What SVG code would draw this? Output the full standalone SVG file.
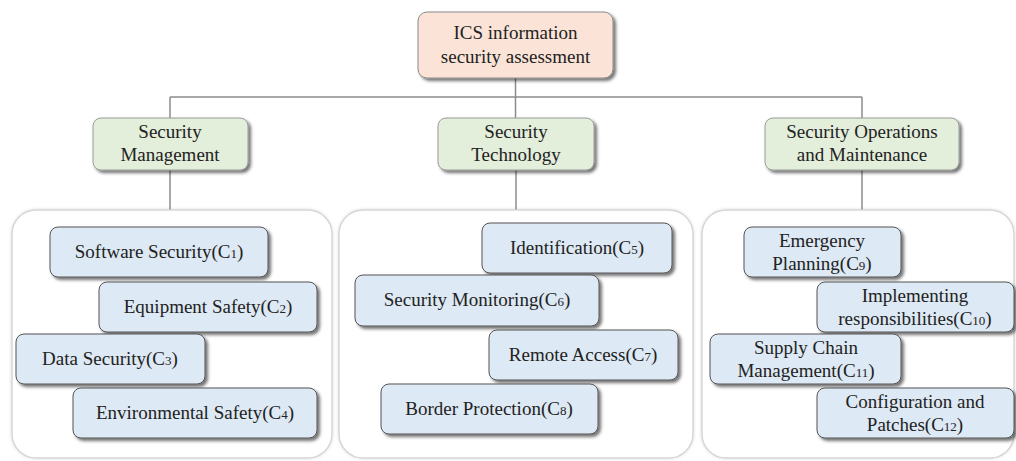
<svg xmlns="http://www.w3.org/2000/svg" width="1016" height="461" viewBox="0 0 1016 461" font-family="'Liberation Serif', 'Times New Roman', Times, serif">
<defs>
<filter id="sh" x="-10%" y="-20%" width="130%" height="150%">
<feDropShadow dx="2.5" dy="2.5" stdDeviation="1.5" flood-color="#000" flood-opacity="0.55"/>
</filter>
<filter id="csh" x="-5%" y="-5%" width="110%" height="110%">
<feDropShadow dx="0" dy="0" stdDeviation="1.5" flood-color="#000" flood-opacity="0.15"/>
</filter>
</defs>
<style>
text{font-family:'Liberation Serif','Times New Roman',Times,serif;font-size:19px;fill:#222;text-anchor:middle}
.top{fill:#fbe4d7;stroke:#8a8a8a;stroke-width:1}
.mid{fill:#e3eedb;stroke:#9a9a9a;stroke-width:1}
.leaf{fill:#dde9f4;stroke:#555;stroke-width:1}
.cont{fill:#fff;stroke:#d6d6d6;stroke-width:1.5}
.ln{stroke:#8c8c8c;stroke-width:1.5;fill:none}
.s{font-size:13px}
</style>
<g id="connectors">
<path class="ln" d="M515.5 78V118M170 97H862M170 97V118M862 97V118M170 170V211M516 170V211M862 170V211"/>
</g>
<g id="containers">
<rect class="cont" filter="url(#csh)" x="12" y="210" width="320" height="248" rx="24"/>
<rect class="cont" filter="url(#csh)" x="339" y="210" width="354" height="248" rx="24"/>
<rect class="cont" filter="url(#csh)" x="702" y="210" width="312" height="248" rx="24"/>
</g>
<g id="root">
<rect class="top" filter="url(#sh)" x="418" y="12" width="195" height="66" rx="9"/>
<text x="515.5" y="39">ICS information</text>
<text x="515.5" y="63">security assessment</text>
</g>
<g id="mgmt">
<rect class="mid" filter="url(#sh)" x="93" y="118" width="155" height="52" rx="8"/>
<text x="170" y="138">Security</text>
<text x="170" y="161">Management</text>
</g>
<g id="tech">
<rect class="mid" filter="url(#sh)" x="438" y="118" width="156" height="52" rx="8"/>
<text x="516" y="138">Security</text>
<text x="516" y="161">Technology</text>
</g>
<g id="ops">
<rect class="mid" filter="url(#sh)" x="765" y="118" width="194" height="52" rx="8"/>
<text x="862" y="138">Security Operations</text>
<text x="862" y="161">and Maintenance</text>
</g>
<g id="c1">
<rect class="leaf" filter="url(#sh)" x="50" y="227" width="218" height="50" rx="8"/>
<text x="159" y="258">Software Security(C<tspan class="s">1</tspan>)</text>
</g>
<g id="c2">
<rect class="leaf" filter="url(#sh)" x="99" y="282" width="218" height="50" rx="8"/>
<text x="208" y="313">Equipment Safety(C<tspan class="s">2</tspan>)</text>
</g>
<g id="c3">
<rect class="leaf" filter="url(#sh)" x="16" y="334" width="189" height="50" rx="8"/>
<text x="110" y="365">Data Security(C<tspan class="s">3</tspan>)</text>
</g>
<g id="c4">
<rect class="leaf" filter="url(#sh)" x="73" y="388" width="244" height="50" rx="8"/>
<text x="195" y="419">Environmental Safety(C<tspan class="s">4</tspan>)</text>
</g>
<g id="c5">
<rect class="leaf" filter="url(#sh)" x="482" y="223" width="190" height="50" rx="8"/>
<text x="577" y="254">Identification(C<tspan class="s">5</tspan>)</text>
</g>
<g id="c6">
<rect class="leaf" filter="url(#sh)" x="355" y="275" width="244" height="51" rx="8"/>
<text x="477" y="306">Security Monitoring(C<tspan class="s">6</tspan>)</text>
</g>
<g id="c7">
<rect class="leaf" filter="url(#sh)" x="489" y="330" width="189" height="50" rx="8"/>
<text x="583" y="361">Remote Access(C<tspan class="s">7</tspan>)</text>
</g>
<g id="c8">
<rect class="leaf" filter="url(#sh)" x="381" y="384" width="217" height="50" rx="8"/>
<text x="489" y="415">Border Protection(C<tspan class="s">8</tspan>)</text>
</g>
<g id="c9">
<rect class="leaf" filter="url(#sh)" x="744" y="227" width="157" height="50" rx="8"/>
<text x="822" y="247">Emergency</text>
<text x="822" y="270">Planning(C<tspan class="s">9</tspan>)</text>
</g>
<g id="c10">
<rect class="leaf" filter="url(#sh)" x="817" y="282" width="197" height="50" rx="8"/>
<text x="915" y="302">Implementing</text>
<text x="915" y="325">responsibilities(C<tspan class="s">10</tspan>)</text>
</g>
<g id="c11">
<rect class="leaf" filter="url(#sh)" x="710" y="334" width="191" height="50" rx="8"/>
<text x="806" y="354">Supply Chain</text>
<text x="806" y="377">Management(C<tspan class="s">11</tspan>)</text>
</g>
<g id="c12">
<rect class="leaf" filter="url(#sh)" x="817" y="388" width="197" height="50" rx="8"/>
<text x="915" y="408">Configuration and</text>
<text x="915" y="431">Patches(C<tspan class="s">12</tspan>)</text>
</g>
</svg>
